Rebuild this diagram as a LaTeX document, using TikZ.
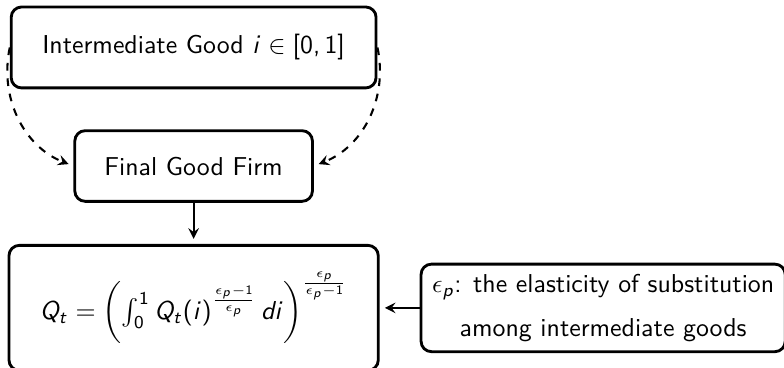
\documentclass[tikz,border=0pt]{standalone}
\usepackage{amsmath}
\renewcommand{\familydefault}{\sfdefault}
% sans serif math, as in slides
\DeclareSymbolFont{operators}{OT1}{cmss}{m}{n}
\DeclareSymbolFont{letters}{OT1}{cmss}{m}{sl}
\DeclareSymbolFont{greekletters}{OML}{cmm}{m}{it}
\DeclareMathSymbol{\epsilon}{\mathord}{greekletters}{"0F}
\DeclareMathSymbol{,}{\mathpunct}{operators}{"2C}
\usetikzlibrary{arrows.meta, positioning}

\begin{document}
\begin{tikzpicture}[
    node distance=0.54cm,
    goodbox/.style={rectangle, rounded corners=4pt, draw=black, line width=1.1pt, text centered, inner sep=2pt},
    arrow/.style={thick,->,>=stealth,shorten >=2pt},
    dasharrow/.style={thick,->,>=stealth,dashed,shorten >=2pt}
]
\useasboundingbox (0,0) rectangle (10.657,-5.002);

\node (inter) [goodbox, minimum width=4.96cm, minimum height=1.10cm] at (2.632,-0.645) {Intermediate Good $i\in[0,1]$};
\node (final) [goodbox, minimum width=3.23cm, minimum height=0.96cm, below=0.543cm of inter] {Final Good Firm};
\node (agg) [goodbox, minimum width=5.02cm, minimum height=1.70cm, below=0.56cm of final] {$Q_t=\left(\int_0^1 Q_t(i)^{\frac{\epsilon_p-1}{\epsilon_p}}\,di\right)^{\frac{\epsilon_p}{\epsilon_p-1}}$};
\node (elast) [goodbox, minimum width=4.95cm, minimum height=1.19cm, align=center, right=0.543cm of agg] {$\epsilon_p$: the elasticity of substitution\\[5pt] among intermediate goods};

\draw [dasharrow] (inter.west) to[bend right=40] (final.west);
\draw [dasharrow] (inter.east) to[bend left=40] (final.east);
\draw [arrow] (final) -- (agg);
\draw [arrow] (elast) -- (agg);

\end{tikzpicture}
\end{document}
